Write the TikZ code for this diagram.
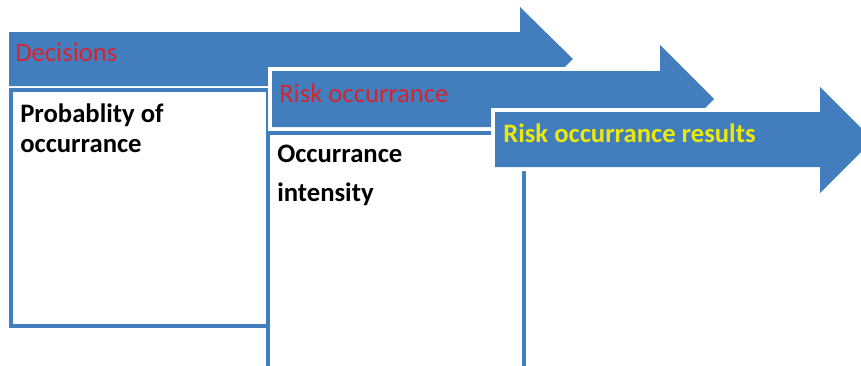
\documentclass[tikz,border=0pt]{standalone}
\usepackage{fontspec}
\setmainfont{Carlito}
\definecolor{flowblue}{RGB}{66,126,190}
\definecolor{labelred}{RGB}{214,36,46}
\definecolor{labelyellow}{RGB}{236,232,12}
\tikzset{
  flowarrow/.style={fill=flowblue, draw=white, line width=6, line join=miter},
  stagebox/.style={fill=white, draw=flowblue, line width=3},
  headlabel/.style={anchor=base west, inner sep=0, font=\fontsize{20}{24}\selectfont},
  bodylabel/.style={anchor=base west, inner sep=0, font=\fontsize{20}{24}\selectfont\bfseries},
}
\begin{document}
\begin{tikzpicture}[x=0.75pt, y=-0.75pt]
  \useasboundingbox (0,0) rectangle (861,365);
  \clip (0,0) rectangle (861,365);

  % first stage: decisions
  \fill[flowblue] (9,32) -- (520,32) -- (520,7) -- (573,59) -- (520,111) -- (520,86) -- (9,86) -- cycle;
  \draw[stagebox] (11,90) rectangle (268,326);
  \node[headlabel, labelred] (dec) at (15,61) {Decisions};
  \node[bodylabel] (prob1) at (20,122) {Probablity of};
  \node[bodylabel] (prob2) at (20,152) {occurrance};

  % second stage: risk occurrance
  \draw[flowarrow] (272,71) -- (660,71) -- (660,45) -- (714,99) -- (660,153) -- (660,127) -- (272,127) -- cycle;
  \fill[flowblue] (272,71) -- (660,71) -- (660,45) -- (714,99) -- (660,153) -- (660,127) -- (272,127) -- cycle;
  \draw[stagebox] (268,133) rectangle (524,380);
  \node[headlabel, labelred] (occ) at (279,102) {Risk occurrance};
  \node[bodylabel] (int1) at (277,162) {Occurrance};
  \node[bodylabel] (int2) at (277,201) {intensity};

  % third stage: results
  \draw[flowarrow] (495,112) -- (820,112) -- (820,87) -- (873,140) -- (820,193) -- (820,167) -- (495,167) -- cycle;
  \fill[flowblue] (495,112) -- (820,112) -- (820,87) -- (873,140) -- (820,193) -- (820,167) -- (495,167) -- cycle;
  \node[bodylabel, labelyellow] (res) at (503,142) {Risk occurrance results};
\end{tikzpicture}
\end{document}
